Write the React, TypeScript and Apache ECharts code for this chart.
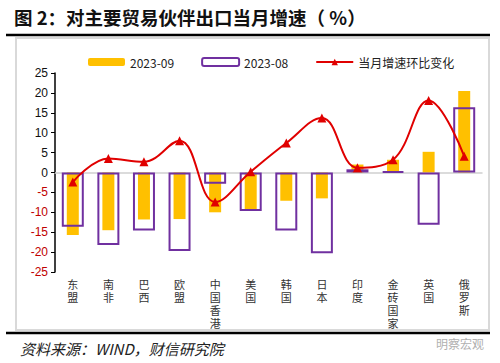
import React, { useEffect, useRef } from "react";
import * as echarts from "echarts";

const categories = ["东盟", "南非", "巴西", "欧盟", "中国香港", "美国", "韩国", "日本", "印度", "金砖国家", "英国", "俄罗斯"];
const sep2023 = [-15.7, -14.5, -11.8, -11.7, -10.0, -9.4, -7.1, -6.5, 2.0, 3.2, 5.2, 20.5];
const aug2023 = [-13.6, -18.2, -14.6, -19.7, -2.8, -9.7, -14.6, -20.3, 0.8, 0.3, -13.1, 16.4];
const momChange = [-2.4, 3.5, 2.7, 8.0, -7.4, 0.2, 7.4, 13.7, 1.2, 3.2, 18.1, 4.1];
const yTicks = [-25, 25, 5];

const CJK = '"Noto Sans CJK SC", "Noto Sans", sans-serif';

export default function App() {
  const ref = useRef<HTMLDivElement>(null);
  useEffect(() => {
    if (!ref.current) return;
    const chart = echarts.init(ref.current, null, { renderer: "svg" });
    chart.setOption({
      animation: false,
      backgroundColor: "#ffffff",
      textStyle: { fontFamily: CJK },
      graphic: [
        { type: "rect", shape: { x: 16, y: 38, width: 473, height: 292 }, style: { fill: "none", stroke: "#d9d9d9", lineWidth: 2 }, z: 0 },
        { type: "text", x: 14, y: 8, style: { text: "图 2：对主要贸易伙伴出口当月增速（ %）", font: `bold 18.5px ${CJK}`, fill: "#111" } },
        { type: "line", shape: { x1: 6, y1: 35, x2: 490, y2: 35 }, style: { stroke: "#000", lineWidth: 2.5 } },
        { type: "line", shape: { x1: 6, y1: 333, x2: 490, y2: 333 }, style: { stroke: "#000", lineWidth: 2.5 } },
        { type: "text", x: 20, y: 341, style: { text: "资料来源：WIND，财信研究院", font: `italic 15px ${CJK}`, fill: "#222" } },
        { type: "text", x: 436, y: 337, style: { text: "明察宏观", font: `12px ${CJK}`, fill: "#b0b0b0" } },
      ],
      legend: {
        top: 51,
        left: 83,
        itemWidth: 37,
        itemHeight: 8,
        itemGap: 27,
        textStyle: { fontSize: 12, color: "#222", fontFamily: CJK },
        data: [
          { name: "2023-09" },
          { name: "2023-08" },
          { name: "当月增速环比变化" },
        ],
      },
      grid: { left: 55, right: 18, top: 73, bottom: 91, containLabel: false },
      xAxis: [
        {
          type: "category",
          data: categories,
          position: "bottom",
          axisLine: { show: false, onZero: false },
          axisTick: { show: false },
          axisLabel: {
            interval: 0,
            margin: 7,
            fontSize: 11,
            lineHeight: 12.8,
            color: "#333",
            fontFamily: '"Liberation Sans", "Noto Sans CJK SC", sans-serif',
            formatter: (v: string) => v.split("").join("\n"),
          },
        },
        {
          type: "category",
          data: categories,
          position: "top",
          axisLine: { show: true, onZero: true, lineStyle: { color: "#d0d0d0", width: 1.5 } },
          axisTick: { show: false },
          axisLabel: { show: false },
        },
      ],
      yAxis: {
        type: "value",
        min: yTicks[0],
        max: yTicks[1],
        interval: yTicks[2],
        splitLine: { show: false },
        axisLine: { show: true, lineStyle: { color: "#000", width: 1.5 } },
        axisTick: { show: true, length: 4, lineStyle: { color: "#000" } },
        axisLabel: {
          fontSize: 12,
          margin: 7,
          fontFamily: '"Liberation Sans", Arial, sans-serif',
          formatter: (v: number) => (v < 0 ? `{neg|${v}}` : `{pos|${v}}`),
          rich: {
            neg: { color: "#c00000", fontSize: 12, fontFamily: '"Liberation Sans", Arial, sans-serif' },
            pos: { color: "#111", fontSize: 12, fontFamily: '"Liberation Sans", Arial, sans-serif' },
          },
        },
      },
      series: [
        {
          name: "2023-09",
          type: "bar",
          xAxisIndex: 1,
          data: sep2023,
          barWidth: 12,
          itemStyle: { color: "#FFC000" },
          z: 2,
        },
        {
          name: "2023-08",
          type: "bar",
          xAxisIndex: 0,
          data: aug2023,
          barWidth: 22,
          itemStyle: { color: "rgba(255,255,255,0)", borderColor: "#7030A0", borderWidth: 2 },
          z: 3,
        },
        {
          name: "当月增速环比变化",
          type: "line",
          xAxisIndex: 0,
          data: momChange,
          smooth: 0.4,
          symbol: "triangle",
          symbolSize: 9,
          lineStyle: { color: "#E00000", width: 2 },
          itemStyle: { color: "#E00000" },
          z: 5,
        },
      ],
    });
    return () => chart.dispose();
  }, []);
  return <div ref={ref} style={{ position: "absolute", left: 0, top: 0, width: 500, height: 363 }} />;
}
